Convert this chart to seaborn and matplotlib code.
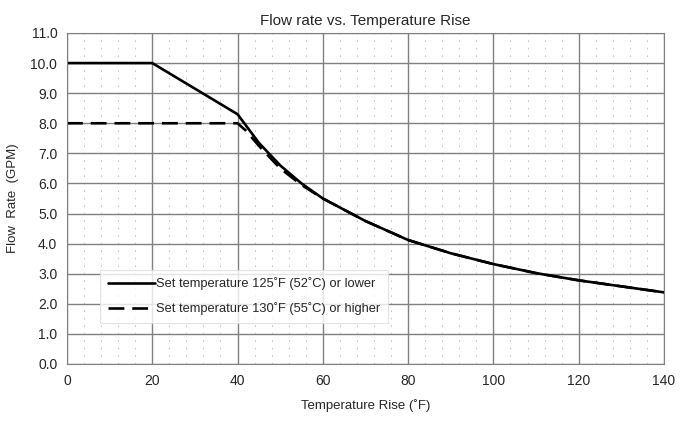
import numpy as np
import pandas as pd
import matplotlib
matplotlib.use("Agg")
import matplotlib.pyplot as plt
from matplotlib.ticker import MultipleLocator
import seaborn as sns

# chart values
temp_low = [0, 20, 40, 45, 50, 55, 60, 70, 80, 90, 100, 110, 120, 130, 140]
flow_low = [10.0, 10.0, 8.3, 7.35, 6.6, 6.0, 5.5, 4.75, 4.12, 3.68, 3.32, 3.02, 2.78, 2.58, 2.38]
temp_high = [0, 40, 42, 45, 50, 55, 60, 70, 80, 90, 100, 110, 120, 130, 140]
flow_high = [8.0, 8.0, 7.75, 7.25, 6.5, 5.95, 5.5, 4.75, 4.12, 3.68, 3.32, 3.02, 2.78, 2.58, 2.38]
label_low = "Set temperature 125˚F (52˚C) or lower"
label_high = "Set temperature 130˚F (55˚C) or higher"

sns.set_style("white")
plt.rcParams['font.family'] = ['Liberation Sans', 'DejaVu Sans']

df = pd.concat([
    pd.DataFrame({'temp': temp_low, 'flow': flow_low, 'series': label_low}),
    pd.DataFrame({'temp': temp_high, 'flow': flow_high, 'series': label_high}),
])

fig = plt.figure(figsize=(6.87, 4.23), dpi=100)
ax = fig.add_axes([0.0975, 0.1395, 0.869, 0.7825])

sns.lineplot(data=df, x='temp', y='flow', style='series', color='black',
             dashes={label_low: '', label_high: (6, 3)}, linewidth=1.9,
             ax=ax, sort=False)

ax.set_xlim(0, 140)
ax.set_ylim(0, 11)
ax.xaxis.set_major_locator(MultipleLocator(20))
ax.xaxis.set_minor_locator(MultipleLocator(4))
ax.yaxis.set_major_locator(MultipleLocator(1))
ax.yaxis.set_major_formatter(matplotlib.ticker.FormatStrFormatter('%.1f'))
ax.grid(which='major', color='#808080', linewidth=1.0)
ax.grid(which='minor', axis='x', color='#bbbbbb', linewidth=0.6, linestyle=(0, (2, 7)))
ax.set_axisbelow(True)
for s in ax.spines.values():
    s.set_color('#808080')
ax.tick_params(which='both', length=0, labelsize=10, pad=7)

ax.set_title('Flow rate vs. Temperature Rise', fontsize=11, pad=6)
ax.set_xlabel('Temperature Rise (˚F)', fontsize=9.5, labelpad=8)
ax.set_ylabel('Flow  Rate  (GPM)', fontsize=9.5, labelpad=8)

leg = ax.legend(loc='lower left', bbox_to_anchor=(0.045, 0.105), fontsize=9.3,
                frameon=True, fancybox=False, handlelength=3.6, handletextpad=0.1,
                borderpad=0.6, labelspacing=0.9)
leg.get_frame().set_edgecolor('#dddddd')
leg.get_frame().set_linewidth(0.8)

fig.savefig('out.png', dpi=100)
